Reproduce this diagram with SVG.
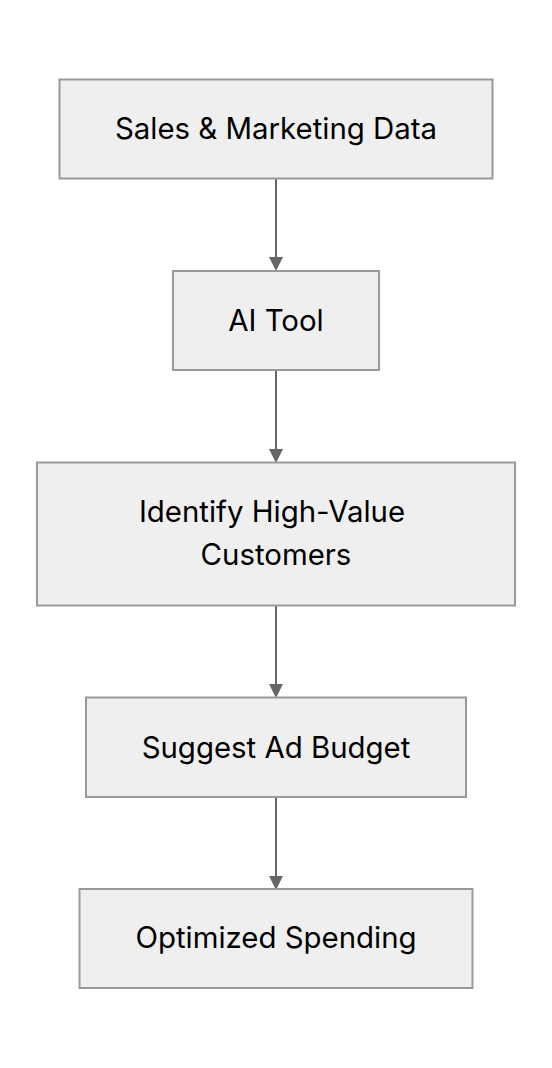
<svg xmlns="http://www.w3.org/2000/svg" width="552" height="1068" viewBox="0 0 552 1068">
<style>
.box{fill:#efefef;stroke:#999999;stroke-width:2}
.lbl{font-family:Inter,"Liberation Sans",sans-serif;font-size:29.4px;fill:#000;text-anchor:middle}
.edge{stroke:#666666;stroke-width:2;fill:none}
.head{fill:#666666}
</style>
<rect width="552" height="1068" fill="#ffffff"/>
<g id="connectors">
<line class="edge" x1="276" y1="179" x2="276" y2="258"/>
<polygon class="head" points="269,257 283,257 276,271"/>
<line class="edge" x1="276" y1="370" x2="276" y2="449"/>
<polygon class="head" points="269,449 283,449 276,463"/>
<line class="edge" x1="276" y1="605" x2="276" y2="684"/>
<polygon class="head" points="269,684 283,684 276,698"/>
<line class="edge" x1="276" y1="797" x2="276" y2="876"/>
<polygon class="head" points="269,876 283,876 276,890"/>
</g>
<g id="node1">
<rect class="box" x="59.5" y="79.5" width="433" height="99"/>
<text class="lbl" x="276" y="139">Sales &amp; Marketing Data</text>
</g>
<g id="node2">
<rect class="box" x="173" y="271" width="206" height="99"/>
<text class="lbl" x="276" y="330.5">AI Tool</text>
</g>
<g id="node3">
<rect class="box" x="37" y="462.5" width="478" height="143"/>
<text class="lbl" x="272" y="521.5">Identify High-Value</text>
<text class="lbl" x="276" y="565">Customers</text>
</g>
<g id="node4">
<rect class="box" x="86" y="697.5" width="380" height="99.5"/>
<text class="lbl" x="276" y="758">Suggest Ad Budget</text>
</g>
<g id="node5">
<rect class="box" x="79.5" y="889" width="393" height="99"/>
<text class="lbl" x="276" y="948">Optimized Spending</text>
</g>
</svg>
